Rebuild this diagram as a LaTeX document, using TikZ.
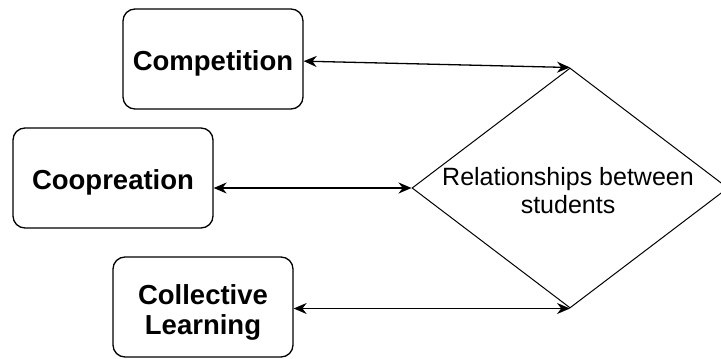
\documentclass[tikz,border=0pt]{standalone}
\usepackage{fontspec}
\setmainfont{Liberation Sans}
\usetikzlibrary{arrows.meta,shapes.geometric}

\tikzset{
	box/.style={draw, rounded corners=6pt, line width=0.65pt, minimum width=#1, minimum height=50pt, text height=14.5pt, align=center, font=\bfseries\fontsize{13.75}{15}\selectfont},
	box/.default=90pt,
	decision/.style={diamond, draw, line width=0.5pt, inner sep=0pt, minimum width=158pt, minimum height=120pt},
	link/.style={{Stealth[length=6.5pt,width=5.5pt]}-{Stealth[length=6.5pt,width=5.5pt]}, line width=0.65pt}
}

\begin{document}
\begin{tikzpicture}[x=0.5pt, y=-0.5pt]
	\useasboundingbox (0,0) rectangle (721,358);
	\node [decision]	(Relations)	at (570,188)	{};
	\node [align=center, font=\fontsize{12.5}{14}\selectfont]	(RelText)	at (568,191)	{Relationships between\\students};
	\node [box]	(Competition)	at (213,59)	{Competition}
		edge [link]	(Relations.north);
	\node [box=100pt]	(Coopreation)	at (113,178)	{Coopreation};
	\node [box, text height=30pt]	(Collective)	at (203,307)	{Collective\\Learning};
	\draw [link] (Coopreation.east |- Relations.west) -- (Relations.west);
	\draw [link] (Collective.east |- Relations.south) -- (Relations.south);
\end{tikzpicture}
\end{document}
